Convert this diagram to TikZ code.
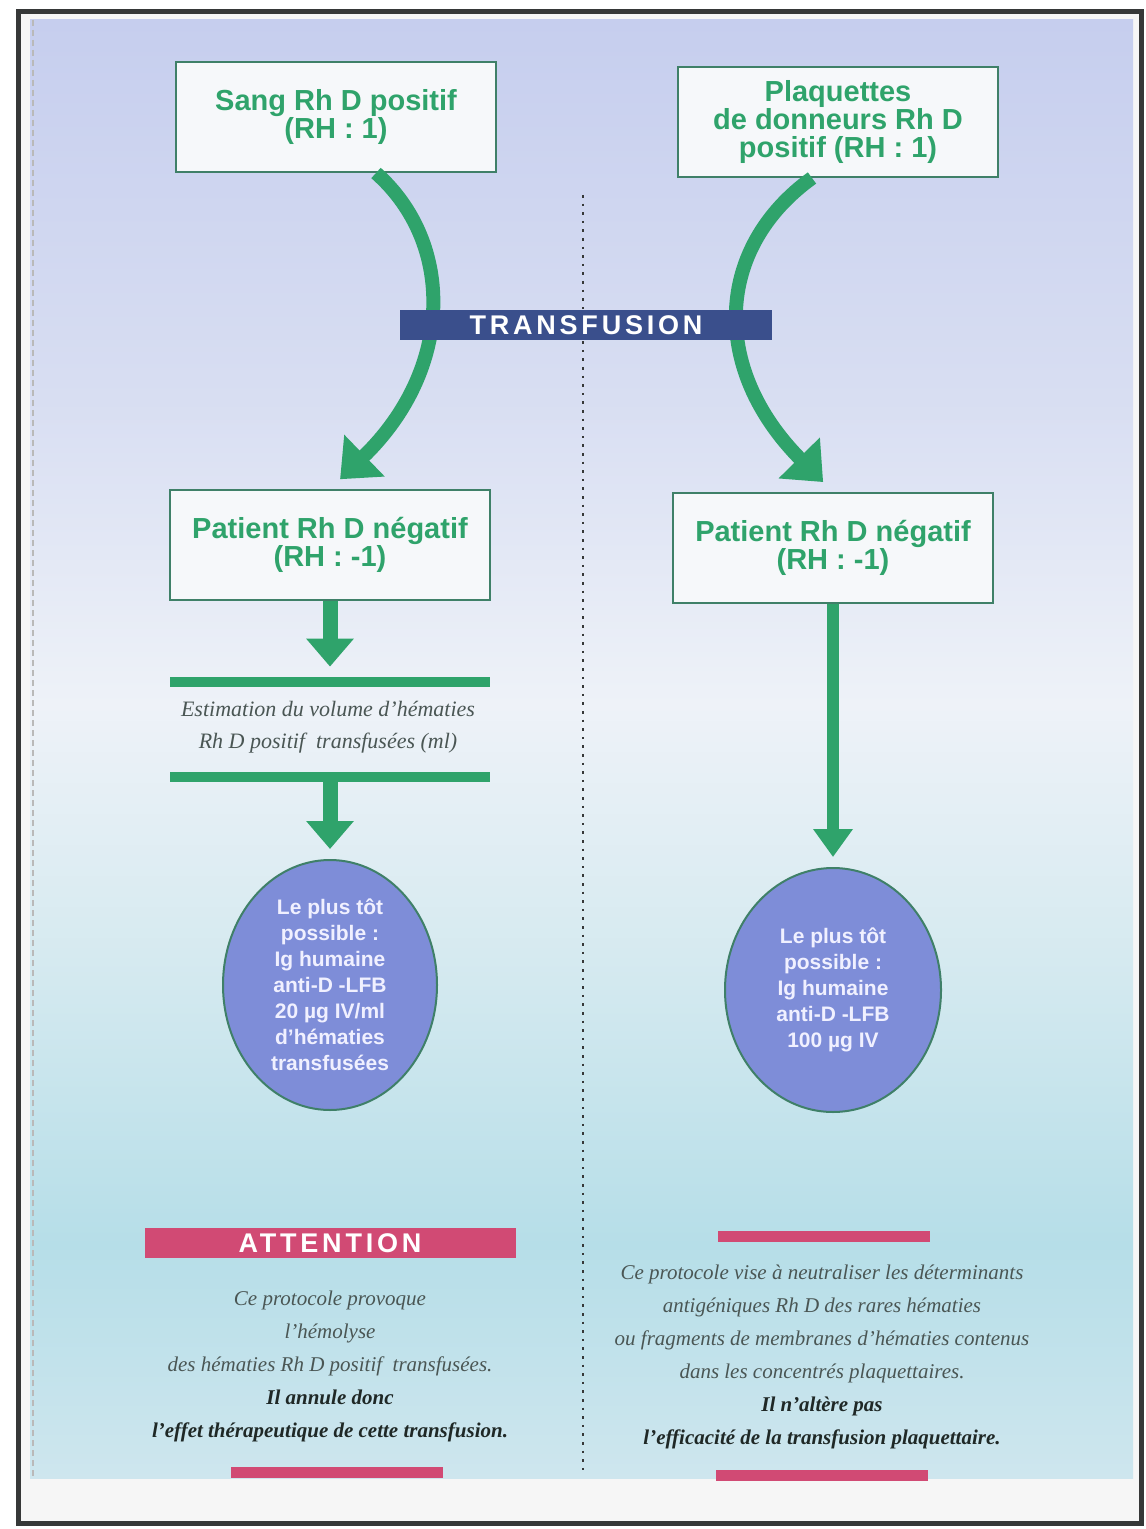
\documentclass[tikz,border=0pt]{standalone}
\usepackage{fontspec}
\setmainfont{Liberation Serif}
\setsansfont{Liberation Sans}
\usetikzlibrary{arrows.meta, shapes.geometric, calc}
\definecolor{cgreen}{HTML}{2FA36B}
\definecolor{cbox}{HTML}{3F8068}
\definecolor{cboxfill}{HTML}{F6F8FA}
\definecolor{cnavy}{HTML}{3A4F8C}
\definecolor{cpink}{HTML}{D14A74}
\definecolor{cblob}{HTML}{7E8DD8}
\definecolor{ctext}{HTML}{4A5654}
\definecolor{cdark}{HTML}{1F2826}
\definecolor{cframe}{HTML}{363838}
\definecolor{ptop}{HTML}{C6CEEE}
\definecolor{plav}{HTML}{D8DEF2}
\definecolor{pwhite}{HTML}{EEF2F8}
\definecolor{plight}{HTML}{D6EAF0}
\definecolor{pcyan}{HTML}{B6DEE8}
\definecolor{pbot}{HTML}{CEE6EE}
\pgfdeclareverticalshading{panelshade}{100bp}{color(0bp)=(pbot); color(25bp)=(pbot);
  color(33bp)=(pcyan); color(43bp)=(plight); color(51.5bp)=(pwhite);
  color(62bp)=(plav); color(75bp)=(ptop); color(100bp)=(ptop)}
\tikzset{
  box/.style={draw=cbox, fill=cboxfill, line width=1pt, minimum width=160pt, minimum height=55pt,
    align=center, text=cgreen, font=\sffamily\bfseries\fontsize{14.5}{14}\selectfont},
  carrow/.style={draw=cgreen, line width=7pt, -{Triangle[length=17pt, width=28pt]}, shorten >=7pt},
  sarrow/.style={draw=cgreen, line width=7.5pt, -{Triangle[length=14pt, width=23pt]}, shorten >=5pt},
  gbar/.style={fill=cgreen, minimum width=160pt, minimum height=5pt, inner sep=0pt},
  band/.style={fill=#1, minimum width=186pt, minimum height=15pt, inner sep=0pt, text=white,
    font=\sffamily\bfseries\fontsize{13.5}{13.5}\selectfont\addfontfeature{LetterSpace=14}},
  pinkline/.style={fill=cpink, minimum width=106pt, minimum height=5.5pt, inner sep=0pt},
  blob/.style={ellipse, draw=cbox, line width=1pt, fill=cblob, inner sep=0pt},
  blobtext/.style={text=white!94!blue, align=center, font=\sffamily\bfseries\fontsize{10.5}{13}\selectfont},
  note/.style={text=ctext, align=center, font=\itshape\fontsize{10.5}{16.5}\selectfont},
  firm/.style={text=cdark},
  dotline/.style={draw=cframe, line width=1.3pt, dash pattern=on 1.3pt off 3pt},
}

\begin{document}
\begin{tikzpicture}[x=0.5pt, y=-0.5pt]
  \useasboundingbox (0,0) rectangle (1145,1529);
  % sheet and frame
  \fill[white!93!gray] (18,12) rectangle (1141,1523);
  \shade[shading=panelshade] (30,20) rectangle (1133,1478);
  \draw[cframe!35, densely dashed, line width=0.6pt] (33,20) -- (33,1478);
  \draw[cframe, line width=2.5pt] (18,12) rectangle (1141,1523);
  \draw[dotline] (583,195) -- (583,1470);

  % donors and patients
  \node[box] (b1) at (336,117) {Sang Rh D positif\\(RH : 1)};
  \node[box] (b2) at (838,122) {Plaquettes\\de donneurs Rh D\\positif (RH : 1)};
  \node[box] (b3) at (330,545) {Patient Rh D négatif\\(RH : -1)};
  \node[box] (b4) at (833,548) {Patient Rh D négatif\\(RH : -1)};

  \draw[carrow] ($(b1.south)+(40,0)$) .. controls +(79,70) and +(124,-120) .. (b3.north);
  \draw[carrow] ($(b2.south)+(-26,0)$) .. controls +(-97,70) and +(-123,-124) .. (b4.north);
  \node[band=cnavy] (tr) at (586,325) {TRANSFUSION};

  % left column
  \node[gbar] (g1) at (330,682) {};
  \node[note, font=\itshape\fontsize{11}{16}\selectfont] (est) at (328,727)
    {Estimation du volume d'hématies\\Rh D positif~ transfusées (ml)};
  \node[gbar] (g2) at (330,777) {};
  \node[blob, minimum width=107pt, minimum height=125pt] (e1) at (330,985) {};
  \node[blobtext] (t1) at (e1) {Le plus tôt\\possible :\\Ig humaine\\anti-D -LFB\\20 µg IV/ml\\d'hématies\\transfusées};
  \draw[sarrow] (b3) -- (g1);
  \draw[sarrow] (g2) -- (e1);

  % right column
  \node[blob, minimum width=108pt, minimum height=122pt] (e2) at (833,990) {};
  \node[blobtext] (t2) at (e2) {Le plus tôt\\possible :\\Ig humaine\\anti-D -LFB\\100 µg IV};
  \draw[sarrow, line width=6pt, -{Triangle[length=14pt, width=19pt]}] (b4) -- (e2);

  % notes
  \node[band=cpink, minimum width=185.5pt] (att) at (330,1243) {ATTENTION};
  \node[note] (n1) at (330,1366) {Ce protocole provoque\\l'hémolyse\\des hématies Rh D positif~ transfusées.\\
    {\color{cdark}\bfseries Il annule donc}\\{\color{cdark}\bfseries l'effet thérapeutique de cette transfusion.}};
  \node[pinkline] (p1) at (824,1236) {};
  \node[note] (n2) at (822,1357) {Ce protocole vise à neutraliser les déterminants\\antigéniques Rh D des rares hématies\\
    ou fragments de membranes d'hématies contenus\\dans les concentrés plaquettaires.\\
    {\color{cdark}\bfseries Il n'altère pas}\\{\color{cdark}\bfseries l'efficacité de la transfusion plaquettaire.}};
  \node[pinkline] (p2) at (337,1472) {};
  \node[pinkline] (p3) at (822,1475) {};
\end{tikzpicture}
\end{document}
